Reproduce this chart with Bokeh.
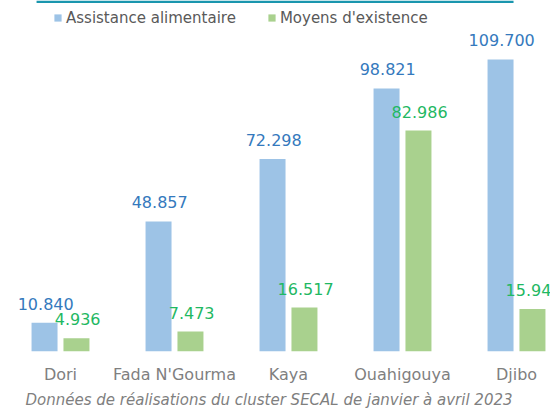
from bokeh.plotting import figure
from bokeh.models import (Range1d, FixedTicker, Legend, LegendItem, Title,
                          BoxAnnotation, ColumnDataSource)
from bokeh.transform import dodge
from bokeh.core.properties import value
from bokeh.embed import file_html
from bokeh.resources import INLINE

categories = ["Dori", "Fada N'Gourma", "Kaya", "Ouahigouya", "Djibo"]
assistance = [10.840, 48.857, 72.298, 98.821, 109.700]
moyens = [4.936, 7.473, 16.517, 82.986, 15.940]
assistance_labels = ["10.840", "48.857", "72.298", "98.821", "109.700"]
moyens_labels = ["4.936", "7.473", "16.517", "82.986", "15.940"]
series_names = ["Assistance alimentaire", "Moyens d'existence"]
title_text = "Données de réalisations  du cluster SECAL de  janvier à avril 2023"

FONT = "DejaVu Sans"
BAR_BLUE = "#9DC3E6"
BAR_GREEN = "#A9D18E"
LBL_BLUE = "#3479BD"
LBL_GREEN = "#1FB863"

FRAME_W, FRAME_H = 550, 351
PX_PER_UNIT = 2.662
CAT_PX = 114.0
FIRST_CENTER = 60.0
ymax = FRAME_H / PX_PER_UNIT

idx = list(range(len(categories)))
src = ColumnDataSource(dict(x=idx, a=assistance, m=moyens,
                            al=assistance_labels, ml=moyens_labels))

p = figure(frame_width=FRAME_W, frame_height=FRAME_H,
           x_range=Range1d(-FIRST_CENTER / CAT_PX, (FRAME_W - FIRST_CENTER) / CAT_PX),
           y_range=Range1d(0, ymax),
           y_axis_location=None,
           output_backend="svg", toolbar_location=None,
           min_border=0, outline_line_color=None)
p.min_border_left = 0
p.min_border_right = 0
p.min_border_top = 0
p.min_border_bottom = 0
p.xgrid.visible = False
p.ygrid.visible = False

xa = p.xaxis[0]
xa.ticker = FixedTicker(ticks=idx)
xa.major_label_overrides = {i: c for i, c in enumerate(categories)}
xa.axis_line_color = None
xa.major_tick_line_color = None
xa.minor_tick_line_color = None
xa.major_tick_out = 0
xa.major_tick_in = 0
xa.major_label_standoff = 13
xa.major_label_text_font = FONT
xa.major_label_text_font_size = "16px"
xa.major_label_text_color = "#7F7F7F"

off = 0.14
bw = 0.228
rb = p.vbar(x=dodge('x', -off, range=p.x_range), top='a', width=bw, source=src,
            fill_color=BAR_BLUE, line_color=None)
rg = p.vbar(x=dodge('x', off, range=p.x_range), top='m', width=bw, source=src,
            fill_color=BAR_GREEN, line_color=None)

p.text(x=dodge('x', -off + 0.01, range=p.x_range), y='a', text='al', source=src,
       text_align='center', text_baseline='alphabetic', y_offset=-19,
       text_font=value(FONT), text_font_size="16px", text_color=LBL_BLUE)
p.text(x=dodge('x', off + 0.01, range=p.x_range), y='m', text='ml', source=src,
       text_align='center', text_baseline='alphabetic', y_offset=-19,
       text_font=value(FONT), text_font_size="16px", text_color=LBL_GREEN)

top_line = BoxAnnotation(left=-0.21, right=3.974, top=ymax, bottom=ymax - 2.5 / PX_PER_UNIT,
                         fill_color="#1A96AE", fill_alpha=1, line_color=None)
p.add_layout(top_line)

legend = Legend(items=[LegendItem(label=series_names[0], renderers=[rb]),
                       LegendItem(label=series_names[1], renderers=[rg])],
                orientation="horizontal", location=(53, FRAME_H - 27),
                glyph_width=9, glyph_height=9, label_height=19, label_standoff=4,
                spacing=31, padding=0, margin=0,
                border_line_color=None, background_fill_alpha=0,
                label_text_font=FONT, label_text_font_size="15px",
                label_text_color="#595959")
p.add_layout(legend)

t = Title(text=title_text, align="left", offset=25, text_font=FONT,
          text_font_size="15px", text_font_style="italic", text_color="#7F7F7F",
          standoff=4)
p.add_layout(t, "below")

open("out.html", "w").write(file_html(p, INLINE))
